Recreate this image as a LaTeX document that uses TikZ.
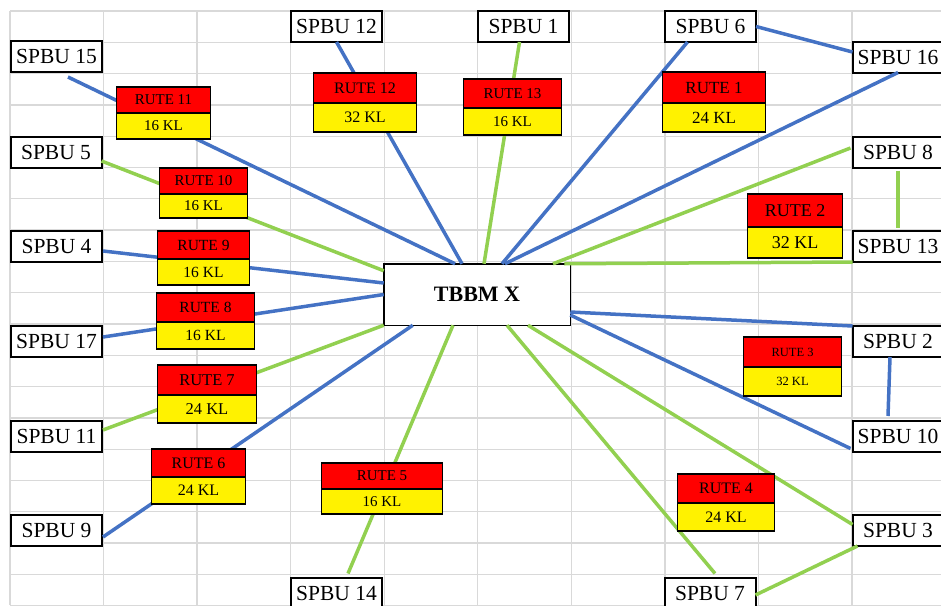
\documentclass[tikz,border=0pt]{standalone}
\usepackage{fontspec}
\setmainfont{Liberation Serif}
\usepackage{xcolor}
\usetikzlibrary{positioning,calc}
\definecolor{lineblue}{HTML}{4472C4}
\definecolor{linegreen}{HTML}{92D050}
\definecolor{cellgray}{HTML}{D9D9D9}

\begin{document}
\begin{tikzpicture}[x=1pt, y=-1pt,
    cell/.style={cellgray, line width=1.3pt},
    spbu/.style={draw, line width=2pt, fill=white, minimum width=91pt, minimum height=31pt,
        inner sep=0pt, outer sep=0pt, font=\fontsize{21.5}{24}\selectfont},
    tbbm/.style={draw, line width=1.5pt, fill=white, minimum width=186.5pt, minimum height=61.5pt,
        inner sep=0pt, outer sep=0pt, font=\bfseries\fontsize{22}{24}\selectfont},
    rute/.style={draw, line width=1.3pt, fill=red, inner sep=0pt, outer sep=0pt,
        font=\fontsize{#1}{#1}\selectfont},
    kl/.style={draw, line width=1.3pt, fill=yellow, inner sep=0pt, outer sep=0pt,
        font=\fontsize{#1}{#1}\selectfont},
    bluelink/.style={lineblue, line width=3.5pt},
    greenlink/.style={linegreen, line width=3.5pt}]
    \useasboundingbox (0,0) rectangle (941,605);

    % Sheet grid
    \foreach \c in {0,...,10}
        \draw[cell] ({10+93.56*\c},11) -- ({10+93.56*\c},605);
    \foreach \r in {0,...,19}
        \draw[cell] (10,{11+31.3*\r}) -- (941,{11+31.3*\r});

    % Depot
    \node[tbbm] (tbbm) at (477,294.5) {TBBM X};

    % Stations, left column
    \node[spbu] (spbu15) at (56.5,56.5) {SPBU 15};
    \node[spbu] (spbu5) at (56,152) {SPBU 5};
    \node[spbu] (spbu4) at (56.5,246.5) {SPBU 4};
    \node[spbu] (spbu17) at (56.5,341.5) {SPBU 17};
    \node[spbu] (spbu11) at (56.5,436.5) {SPBU 11};
    \node[spbu] (spbu9) at (56.5,530.5) {SPBU 9};

    % Stations, top and bottom rows
    \node[spbu] (spbu12) at (336.5,26.5) {SPBU 12};
    \node[spbu] (spbu1) at (523.5,26.5) {SPBU 1};
    \node[spbu] (spbu6) at (710.5,26.5) {SPBU 6};
    \node[spbu] (spbu14) at (336.5,593) {SPBU 14};
    \node[spbu] (spbu7) at (710,593) {SPBU 7};

    % Stations, right column
    \node[spbu] (spbu16) at (898,57) {SPBU 16};
    \node[spbu] (spbu8) at (898,152) {SPBU 8};
    \node[spbu] (spbu13) at (898,246.5) {SPBU 13};
    \node[spbu] (spbu2) at (898,341.5) {SPBU 2};
    \node[spbu] (spbu10) at (898,436.5) {SPBU 10};
    \node[spbu] (spbu3) at (898,530.5) {SPBU 3};

    % Routes
    \draw[bluelink] ($(spbu15.south)+(11.5,5)$) -- ($(tbbm.north)+(-22,0)$);
    \draw[bluelink] (spbu12.south) -- ($(tbbm.north)+(-15,0)$);
    \draw[greenlink] ($(spbu1.south)+(-4,0)$) -- ($(tbbm.north)+(7,0)$);
    \draw[bluelink] ($(spbu6.south)+(-23,0)$) -- ($(tbbm.north)+(25,0)$);
    \draw[bluelink] (spbu16.south) -- ($(tbbm.north)+(28,0)$);
    \draw[bluelink] (spbu6.east) -- ($(spbu16.west)+(0,-5)$);
    \draw[greenlink] ($(spbu8.west)+(-2,-4)$) -- ($(tbbm.north)+(76,0)$);
    \draw[greenlink, shorten <=3pt, shorten >=3pt] (spbu8.south) -- (spbu13.north);
    \draw[greenlink] (spbu13.south west) -- ($(tbbm.north east)+(-6,0)$);
    \draw[bluelink] (spbu2.north west) -- ($(tbbm.east)+(0,17.5)$);
    \draw[bluelink] ($(spbu10.west)+(-2,12)$) -- ($(tbbm.east)+(0,20.5)$);
    \draw[bluelink] ($(spbu2.south)+(-8,0)$) -- ($(spbu10.north)+(-10,-5)$);
    \draw[greenlink] ($(spbu3.west)+(0,-6)$) -- ($(tbbm.south)+(51,0)$);
    \draw[greenlink] ($(spbu7.north)+(5,-4)$) -- ($(tbbm.south)+(30,0)$);
    \draw[greenlink] ($(spbu3.south west)+(5,0)$) -- ($(spbu7.east)+(0,2)$);
    \draw[greenlink] ($(spbu14.north)+(11.5,-4)$) -- ($(tbbm.south)+(-24,0)$);
    \draw[bluelink] ($(spbu9.east)+(1,6.5)$) -- ($(tbbm.south west)+(29,0)$);
    \draw[greenlink] ($(spbu11.east)+(1,-6.5)$) -- (tbbm.south west);
    \draw[bluelink] ($(spbu17.east)+(1,-4.5)$) -- (tbbm.west);
    \draw[bluelink] ($(spbu4.east)+(1,4.5)$) -- ($(tbbm.west)+(0,-11.5)$);
    \draw[greenlink] ($(spbu5.east)+(0,9)$) -- ($(tbbm.north west)+(0,7)$);

    % Route labels
    \node[rute=15, minimum width=94pt, minimum height=26pt] (r11) at (163.5,100) {RUTE 11};
    \node[kl=15, minimum width=94pt, minimum height=26pt, below=0pt of r11] (k11) {16 KL};
    \node[rute=15, minimum width=88pt, minimum height=26pt] (r10) at (203.5,181) {RUTE 10};
    \node[kl=15, minimum width=88pt, minimum height=24pt, below=0pt of r10] (k10) {16 KL};
    \node[rute=16, minimum width=103pt, minimum height=30pt] (r12) at (365,88) {RUTE 12};
    \node[kl=16, minimum width=103pt, minimum height=29pt, below=0pt of r12] (k12) {32 KL};
    \node[rute=15, minimum width=98pt, minimum height=29pt] (r13) at (512.5,93.5) {RUTE 13};
    \node[kl=15, minimum width=98pt, minimum height=27pt, below=0pt of r13] (k13) {16 KL};
    \node[rute=17, minimum width=103pt, minimum height=31pt] (r1) at (714,87.5) {RUTE 1};
    \node[kl=17, minimum width=103pt, minimum height=29pt, below=0pt of r1] (k1) {24 KL};
    \node[rute=18, minimum width=95pt, minimum height=33pt] (r2) at (795,210.5) {RUTE 2};
    \node[kl=18, minimum width=95pt, minimum height=31pt, below=0pt of r2] (k2) {32 KL};
    \node[rute=12.5, minimum width=98pt, minimum height=30pt] (r3) at (792.5,352) {RUTE 3};
    \node[kl=12.5, minimum width=98pt, minimum height=29pt, below=0pt of r3] (k3) {32 KL};
    \node[rute=15.5, minimum width=92pt, minimum height=28pt] (r9) at (203.5,245) {RUTE 9};
    \node[kl=15.5, minimum width=92pt, minimum height=26pt, below=0pt of r9] (k9) {16 KL};
    \node[rute=15.5, minimum width=98pt, minimum height=29pt] (r8) at (205.5,307.5) {RUTE 8};
    \node[kl=15.5, minimum width=98pt, minimum height=27pt, below=0pt of r8] (k8) {16 KL};
    \node[rute=16.5, minimum width=99pt, minimum height=30pt] (r7) at (207,380) {RUTE 7};
    \node[kl=16.5, minimum width=99pt, minimum height=28pt, below=0pt of r7] (k7) {24 KL};
    \node[rute=16, minimum width=94pt, minimum height=28pt] (r6) at (198.5,463) {RUTE 6};
    \node[kl=16, minimum width=94pt, minimum height=27pt, below=0pt of r6] (k6) {24 KL};
    \node[rute=15, minimum width=121pt, minimum height=26pt] (r5) at (382,476) {RUTE 5};
    \node[kl=15, minimum width=121pt, minimum height=25pt, below=0pt of r5] (k5) {16 KL};
    \node[rute=16, minimum width=97pt, minimum height=29pt] (r4) at (726,488.5) {RUTE 4};
    \node[kl=16, minimum width=97pt, minimum height=28pt, below=0pt of r4] (k4) {24 KL};
\end{tikzpicture}
\end{document}
